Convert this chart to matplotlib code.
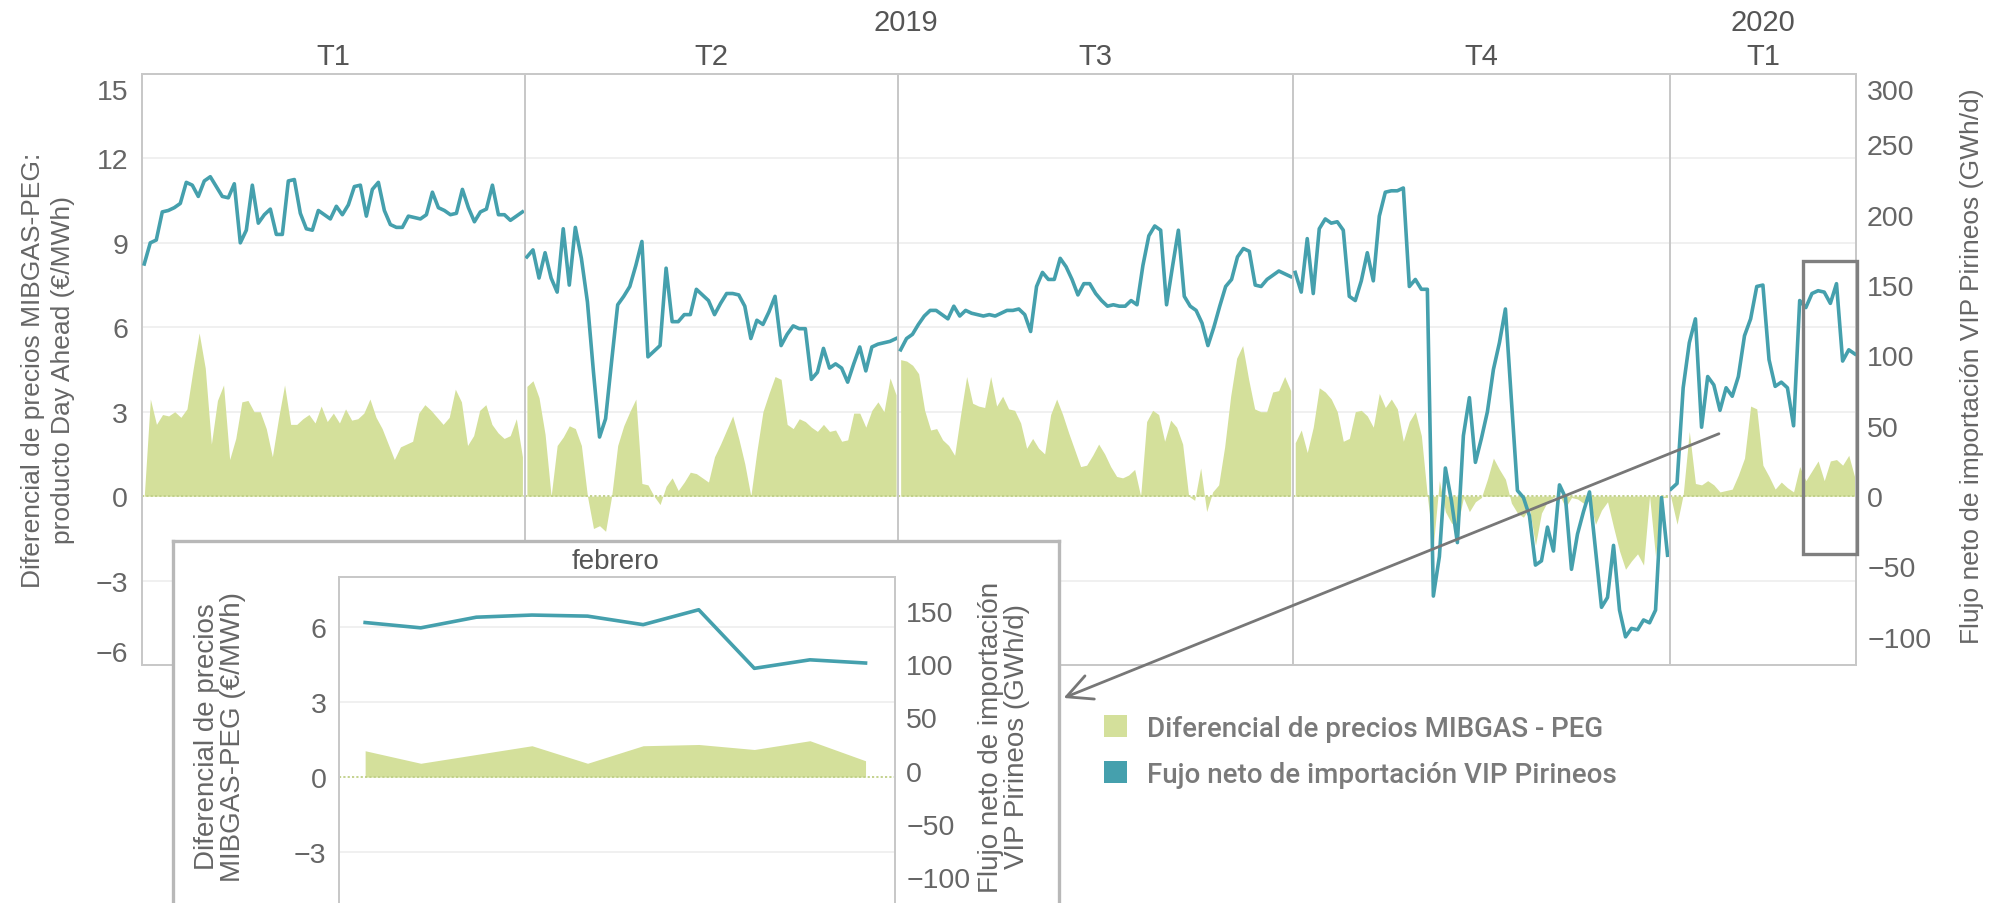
import numpy as np
import matplotlib
matplotlib.use("Agg")
import matplotlib.pyplot as plt
from matplotlib.patches import Patch, Rectangle, FancyArrowPatch
from matplotlib.transforms import ScaledTranslation, blended_transform_factory

plt.rcParams['font.family'] = ['Liberation Sans', 'DejaVu Sans']

# ---------------- data ----------------
quarter_labels = ['T1', 'T2', 'T3', 'T4', 'T1']
quarter_years = ['2019', '2019', '2019', '2019', '2020']

# Net import flow VIP Pirineos (GWh/d)
flow_2019_t1 = [165, 180, 182, 202, 203, 205, 208, 223, 221, 213, 224, 227, 220, 213, 212, 222,
                180, 189, 221, 194, 200, 204, 186, 186, 224, 225, 201, 190, 189, 203, 200, 197,
                206, 200, 207, 220, 221, 199, 218, 223, 203, 193, 191, 191, 199, 198, 197, 200,
                216, 205, 203, 200, 201, 218, 205, 195, 202, 204, 221, 200, 200, 196, 199, 202]
flow_2019_t2 = [170, 175, 155, 173, 155, 145, 190, 150, 191, 169, 138, 88, 42, 55, 96, 136,
                142, 149, 164, 181, 99, 103, 107, 162, 124, 124, 129, 129, 147, 143, 139, 129,
                137, 144, 144, 143, 135, 112, 125, 122, 131, 142, 107, 115, 121, 119, 119, 83,
                88, 105, 91, 94, 91, 81, 94, 106, 89, 106, 108, 109, 110, 112]
flow_2019_t3 = [104, 112, 115, 122, 128, 132, 132, 129, 126, 135, 128, 132, 130, 129, 128, 129,
                128, 130, 132, 132, 133, 129, 117, 149, 159, 154, 154, 169, 163, 154, 143, 151,
                151, 144, 139, 135, 136, 135, 135, 139, 136, 164, 185, 192, 189, 136, 163, 189,
                142, 135, 132, 123, 107, 120, 135, 149, 154, 170, 176, 174, 150, 149, 154, 157,
                160, 158, 156]
flow_2019_t4 = [159, 145, 183, 144, 190, 197, 194, 195, 189, 142, 139, 153, 173, 153, 199, 216,
                217, 217, 219, 149, 154, 147, 147, -71, -43, 20, -3, -33, 43, 70, 24, 41,
                60, 90, 109, 133, 68, 4, -1, -14, -49, -46, -22, -39, 8, -1, -52, -27,
                -11, 3, -38, -79, -72, -35, -81, -100, -94, -95, -88, -90, -81, -1, -42]
flow_2020_jan = [5, 9, 77, 109, 126, 49, 85, 79, 61, 77, 71, 85, 114, 126, 149, 150,
                 97, 78, 81, 77, 50]
flow_2020_feb = [139, 134, 144, 146, 145, 137, 151, 96, 104, 101]

# Price spread MIBGAS - PEG (EUR/MWh)
spread_2019_t1 = [0, 3.45, 2.55, 2.9, 2.85, 3.0, 2.8, 3.1, 4.5, 5.8, 4.55, 1.85, 3.4, 3.95, 1.3, 2.05,
                  3.35, 3.4, 3.0, 3.0, 2.4, 1.4, 2.75, 3.95, 2.55, 2.55, 2.75, 2.9, 2.6, 3.2, 2.65, 2.95,
                  2.6, 3.1, 2.7, 2.75, 2.95, 3.45, 2.8, 2.4, 1.85, 1.3, 1.75, 1.85, 1.95, 2.95, 3.25, 3.05,
                  2.8, 2.55, 2.8, 3.8, 3.35, 1.8, 2.15, 3.05, 3.25, 2.55, 2.25, 2.05, 2.15, 2.75, 1.4]
spread_2019_t2 = [3.9, 4.1, 3.5, 2.2, 0, 1.8, 2.1, 2.5, 2.4, 1.8, 0, -1.15, -1.05, -1.25, 0, 1.8,
                  2.5, 3.0, 3.45, 0.45, 0.4, 0, -0.3, 0.35, 0.65, 0.2, 0.5, 0.85, 0.8, 0.65, 0.5, 1.4,
                  1.85, 2.35, 2.85, 2.05, 1.15, 0, 1.6, 3.0, 3.65, 4.25, 4.15, 2.55, 2.4, 2.75, 2.65, 2.45,
                  2.3, 2.55, 2.3, 2.35, 1.95, 2.0, 2.95, 2.95, 2.45, 3.05, 3.35, 3.0, 4.2, 3.6]
spread_2019_t3 = [4.85, 4.8, 4.65, 4.35, 3.05, 2.35, 2.4, 2.0, 1.8, 1.45, 2.9, 4.25, 3.3, 3.2, 3.15, 4.25,
                  3.2, 3.55, 3.1, 3.05, 2.6, 1.7, 2.05, 1.7, 1.5, 2.9, 3.45, 2.9, 2.25, 1.65, 1.05, 1.1,
                  1.45, 1.85, 1.5, 1.05, 0.7, 0.65, 0.75, 0.95, 0, 2.65, 3.05, 2.9, 1.95, 2.7, 2.45, 1.85,
                  0, -0.15, 1.0, -0.55, 0.15, 0.4, 1.75, 3.55, 4.9, 5.35, 4.15, 3.1, 3.0, 3.0, 3.7, 3.75,
                  4.25, 3.75]
spread_2019_t4 = [1.9, 2.35, 1.55, 2.45, 3.85, 3.7, 3.45, 3.0, 1.95, 2.05, 3.0, 3.05, 2.85, 2.45, 3.65, 3.15,
                  3.45, 3.1, 1.95, 2.65, 3.0, 2.15, 0, -1.75, 0.55, -0.55, -0.95, -1.1, -0.05, -0.55, -0.2, -0.05,
                  0.6, 1.35, 0.95, 0.6, -0.25, -0.6, -0.75, -0.4, -1.75, -0.6, -0.2, -0.05, 0.05, -0.4, -0.05, -0.1,
                  -0.25, -0.15, -1.0, -0.5, -0.2, -1.1, -1.95, -2.6, -2.3, -2.05, -2.45, 0, -2.15, -0.05, -0.05]
spread_2020_jan = [-0.05, -1.0, 0.05, 2.3, 0.45, 0.4, 0.55, 0.4, 0.15, 0.2, 0.25, 0.75, 1.35, 3.2, 3.1, 1.1,
                   0.7, 0.25, 0.5, 0.3, 0.15]
spread_2020_feb = [1.05, 0.55, 0.9, 1.25, 0.55, 1.25, 1.3, 1.1, 1.45, 0.65]

spread_ticks = [-6, -3, 0, 3, 6, 9, 12, 15]
flow_ticks = [-100, -50, 0, 50, 100, 150, 200, 250, 300]
inset_spread_ticks = [-3, 0, 3, 6]
inset_flow_ticks = [-100, -50, 0, 50, 100, 150]
inset_title = 'febrero'
legend_labels = ['Diferencial de precios MIBGAS - PEG', 'Fujo neto de importación VIP Pirineos']

# ---------------- style ----------------
GREEN = '#d4e09b'
ZERO = '#bfcf86'
TEAL = '#45a0ad'
GRID = '#eeeeee'
FRAME = '#c8c8c8'
TXT = '#666666'
HDR = '#555555'

W, H = 1995, 904
fig = plt.figure(figsize=(W / 100, H / 100), dpi=100)


def fx(px):
    return px / W


def fy(py):
    return 1 - py / H


pane_px = [142, 524.7, 898.3, 1293, 1669.8, 1856]
top_px, bot_px = 75, 666

flows = [flow_2019_t1, flow_2019_t2, flow_2019_t3, flow_2019_t4, flow_2020_jan + flow_2020_feb]
spreads = [spread_2019_t1, spread_2019_t2, spread_2019_t3, spread_2019_t4, spread_2020_jan + spread_2020_feb]

main_axes = []
for i in range(5):
    ax = fig.add_axes([fx(pane_px[i]), fy(bot_px), fx(pane_px[i + 1]) - fx(pane_px[i]),
                       (bot_px - top_px) / H])
    ax.set_ylim(spread_ticks[0], spread_ticks[-1])
    ax.set_xlim(-0.006, 1.006)
    for g in spread_ticks[1:-1]:
        if g != 0:
            ax.axhline(g, color=GRID, lw=1.2, zorder=0)
    s = np.array(spreads[i], float)
    xs = np.linspace(0, 1, len(s))
    ax.fill_between(xs, s, 0, color=GREEN, lw=0, zorder=1)
    ax.axhline(0, color=ZERO, lw=1.3, ls=(0, (1.2, 1.2)), zorder=2)
    ax.set_xticks([])
    ax.set_yticks(spread_ticks)
    ax.tick_params(axis='y', length=0, labelsize=20.5, labelcolor=TXT, pad=10,
                   labelleft=(i == 0))
    ax2 = ax.twinx()
    ax2.set_ylim(flow_ticks[0] - 20, flow_ticks[-1])
    f = np.array(flows[i], float)
    xf = np.linspace(0, 1, len(f))
    ax2.plot(xf, f, color=TEAL, lw=2.6, solid_joinstyle='round', zorder=3)
    ax2.set_yticks(flow_ticks)
    ax2.tick_params(axis='y', length=0, labelsize=20.5, labelcolor=TXT, pad=8,
                    labelright=(i == 4))
    for a in (ax, ax2):
        for sp in a.spines.values():
            sp.set_color(FRAME)
            sp.set_linewidth(1.3)
    main_axes.append((ax, ax2))
    cx = (pane_px[i] + pane_px[i + 1]) / 2
    fig.text(fx(cx), fy(57), quarter_labels[i], ha='center', va='center', fontsize=21, color=HDR)

# year headers
for yr in dict.fromkeys(quarter_years):
    idx = [k for k, y in enumerate(quarter_years) if y == yr]
    cx = (pane_px[idx[0]] + pane_px[idx[-1] + 1]) / 2
    fig.text(fx(cx), fy(23), yr, ha='center', va='center', fontsize=21, color=HDR)

# nudge edge tick labels inward (as in the original)
def nudge(lbl, dy_pt):
    lbl.set_transform(lbl.get_transform() + ScaledTranslation(0, dy_pt / 72, fig.dpi_scale_trans))

lt = main_axes[0][0].yaxis.get_major_ticks()
nudge(lt[0].label1, 10)
nudge(lt[-1].label1, -11)
rt = main_axes[4][1].yaxis.get_major_ticks()
nudge(rt[-1].label2, -11)

# axis titles
fig.text(fx(48), fy(370), 'Diferencial de precios MIBGAS-PEG:\nproducto Day Ahead (€/MWh)',
         rotation=90, ha='center', va='center', fontsize=19, color=TXT, linespacing=1.3)
fig.text(fx(1972), fy(366), 'Flujo neto de importación VIP Pirineos (GWh/d)',
         rotation=90, ha='center', va='center', fontsize=19, color=TXT)

# highlight box around February
ax_last, ax2_last = main_axes[4]
tr = blended_transform_factory(ax2_last.transAxes, ax2_last.transData)
ax2_last.add_patch(Rectangle((0.713, -41), 1.003 - 0.713, 167 + 41, transform=tr, fill=False,
                             edgecolor='#7f7f7f', lw=2.4, clip_on=False, zorder=10))

# ---------------- inset ----------------
frame = fig.add_axes([fx(172.6), fy(940), fx(1059) - fx(172.6), (940 - 541.7) / H], zorder=5)
frame.set_xticks([])
frame.set_yticks([])
frame.set_facecolor('white')
for sp in frame.spines.values():
    sp.set_color('#b8b8b8')
    sp.set_linewidth(2.4)
frame.text(fx(616), fy(562), inset_title, transform=fig.transFigure, ha='center', va='center',
           fontsize=20, color=HDR)
frame.text(fx(220), fy(737), 'Diferencial de precios\nMIBGAS-PEG (€/MWh)', transform=fig.transFigure,
           rotation=90, ha='center', va='center', fontsize=20, color=TXT, linespacing=1.05)
frame.text(fx(1004), fy(737), 'Flujo neto de importación\nVIP Pirineos (GWh/d)', transform=fig.transFigure,
           rotation=90, ha='center', va='center', fontsize=20, color=TXT, linespacing=1.05)

iax = fig.add_axes([fx(339), fy(928.3), fx(895) - fx(339), (928.3 - 577.7) / H], zorder=6)
iax.set_ylim(-6, 8)
iax.set_xlim(-0.47, len(spread_2020_feb) - 1 + 0.53)
for g in inset_spread_ticks:
    if g != 0:
        iax.axhline(g, color=GRID, lw=1.2, zorder=0)
xi = np.arange(len(spread_2020_feb))
iax.fill_between(xi, spread_2020_feb, 0, color=GREEN, lw=0, zorder=1)
iax.axhline(0, color=ZERO, lw=1.3, ls=(0, (1.2, 1.2)), zorder=2)
iax.set_xticks([])
iax.set_yticks(inset_spread_ticks)
iax.tick_params(axis='y', length=0, labelsize=20.5, labelcolor=TXT, pad=9)
iax2 = iax.twinx()
iax2.set_zorder(7)
iax2.patch.set_visible(False)
iax2.set_ylim(-147, 182)
iax2.plot(np.arange(len(flow_2020_feb)), flow_2020_feb, color=TEAL, lw=2.6, solid_joinstyle='round')
iax2.set_yticks(inset_flow_ticks)
iax2.tick_params(axis='y', length=0, labelsize=20.5, labelcolor=TXT, pad=8)
for a in (iax, iax2):
    for sp in a.spines.values():
        sp.set_color(FRAME)
        sp.set_linewidth(1.3)

# arrow from main chart to inset
arrow = FancyArrowPatch((fx(1721.5), fy(433.7)), (fx(1061), fy(700)), transform=fig.transFigure,
                        arrowstyle='->,head_length=0.9,head_width=0.45', mutation_scale=20,
                        lw=2.0, color='#777777', zorder=20)
fig.add_artist(arrow)

# legend
handles = [Patch(facecolor=GREEN, edgecolor='none'), Patch(facecolor=TEAL, edgecolor='none')]
leg = fig.legend(handles, legend_labels, loc='upper left', bbox_to_anchor=(fx(1103.6), fy(716)),
                 frameon=False, handlelength=0.85, handleheight=0.85, handletextpad=0.7,
                 labelspacing=0.68, borderaxespad=0, borderpad=0,
                 prop={'family': ['Roboto', 'DejaVu Sans'], 'weight': 'medium', 'size': 20})
for t in leg.get_texts():
    t.set_color('#7a7a7a')

fig.savefig('out.png', dpi=100)
